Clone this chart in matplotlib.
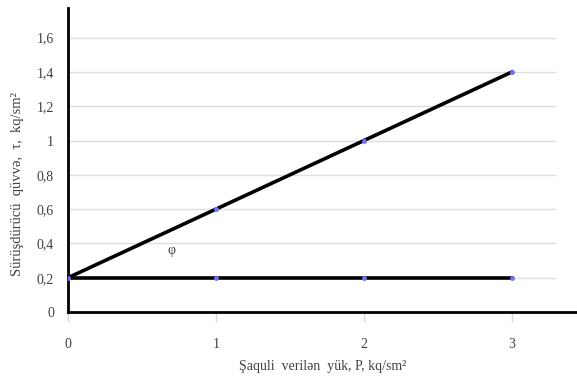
import matplotlib
matplotlib.use("Agg")
import matplotlib.pyplot as plt

x = [0, 1, 2, 3]
tau_line = [0.2, 0.6, 1.0, 1.4]
base_line = [0.2, 0.2, 0.2, 0.2]
y_ticks = [0, 0.2, 0.4, 0.6, 0.8, 1.0, 1.2, 1.4, 1.6]
y_labels = ["0", "0,2", "0,4", "0,6", "0,8", "1", "1,2", "1,4", "1,6"]
x_ticks = [0, 1, 2, 3]
x_labels = ["0", "1", "2", "3"]

plt.rcParams['font.family'] = ['Liberation Serif', 'DejaVu Serif']
txt = '#404040'

fig = plt.figure(figsize=(5.77, 3.79), dpi=100)
ax = fig.add_axes([68/577, 67/379, (577-68)/577, (312-8)/379])
ax.set_xlim(0, 3.44)
ax.set_ylim(0, 1.773)

for yv in y_ticks[1:]:
    ax.hlines(yv, 0, 3.3, color='#dedede', lw=1, zorder=1)

ax.plot(x, base_line, color='black', lw=2.6, zorder=3,
        marker='o', ms=2.5, mfc='#7070ff', mec='#7070ff')
ax.plot(x, tau_line, color='black', lw=2.6, zorder=3,
        marker='o', ms=2.5, mfc='#7070ff', mec='#7070ff')

ax.text(0.7, 0.36, 'φ', fontsize=10, color=txt, ha='center', va='center')

for s in ['top', 'right']:
    ax.spines[s].set_visible(False)
for s in ['left', 'bottom']:
    ax.spines[s].set_linewidth(2)
    ax.spines[s].set_color('black')

ax.set_yticks(y_ticks)
ax.set_yticklabels(y_labels)
ax.set_xticks(x_ticks)
ax.set_xticklabels(x_labels)
ax.tick_params(axis='y', length=0, pad=10, labelsize=10, labelcolor=txt)
ax.tick_params(axis='x', length=7, width=1, color='#d9d9d9', pad=12,
               labelsize=10, labelcolor=txt)

ax.set_xlabel('Şaquli  verilən  yük, P, kq/sm²', fontsize=10, color=txt, labelpad=6)
ax.set_ylabel('Sürüşdürücü  qüvvə,  τ,  kq/sm²', fontsize=10.5, color=txt)
ax.yaxis.set_label_coords(-0.086, 0.42)

fig.savefig('out.png', dpi=100)
